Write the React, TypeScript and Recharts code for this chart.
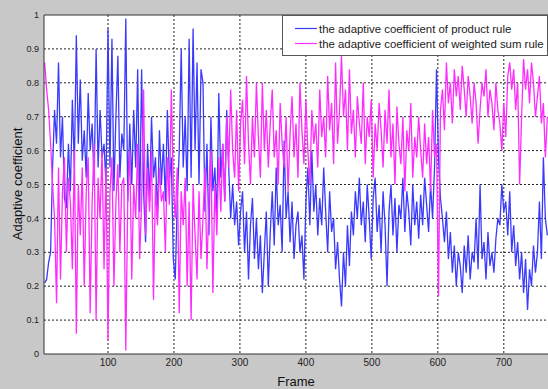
import React from 'react';
import { LineChart, Line, XAxis, YAxis, CartesianGrid, ReferenceLine, Legend } from 'recharts';

const frameStart = 4;
const frameStep = 3;

const productRule: number[] = [
  0.21,0.22,0.27,0.30,0.55,0.72,0.62,0.86,0.58,0.70,
  0.46,0.43,0.62,0.48,0.75,0.55,0.94,0.62,0.81,0.57,
  0.66,0.52,0.77,0.60,0.68,0.50,0.90,0.55,0.72,0.58,
  0.62,0.50,0.96,0.55,0.93,0.48,0.70,0.88,0.52,0.65,
  0.60,0.99,0.45,0.68,0.50,0.72,0.55,0.84,0.42,0.84,
  0.48,0.33,0.62,0.45,0.70,0.52,0.58,0.40,0.66,0.50,
  0.62,0.45,0.72,0.52,0.58,0.28,0.22,0.45,0.60,0.90,
  0.55,0.70,0.48,0.93,0.52,0.96,0.60,0.86,0.50,0.84,
  0.80,0.42,0.62,0.35,0.70,0.48,0.55,0.40,0.77,0.52,
  0.62,0.45,0.72,0.55,0.40,0.50,0.38,0.45,0.32,0.42,
  0.48,0.30,0.42,0.22,0.38,0.46,0.28,0.40,0.25,0.35,
  0.18,0.30,0.42,0.20,0.36,0.48,0.32,0.55,0.38,0.44,
  0.30,0.63,0.40,0.48,0.33,0.45,0.28,0.38,0.42,0.30,
  0.35,0.22,0.45,0.55,0.38,0.60,0.42,0.50,0.35,0.46,
  0.38,0.55,0.42,0.30,0.48,0.36,0.40,0.25,0.33,0.22,
  0.14,0.30,0.20,0.38,0.26,0.42,0.35,0.48,0.40,0.52,
  0.38,0.45,0.33,0.50,0.40,0.28,0.46,0.52,0.36,0.44,
  0.30,0.48,0.38,0.20,0.42,0.50,0.35,0.46,0.30,0.44,
  0.40,0.52,0.36,0.48,0.42,0.32,0.50,0.38,0.45,0.34,
  0.47,0.38,0.52,0.44,0.36,0.50,0.40,0.55,0.84,0.58,
  0.46,0.40,0.33,0.42,0.28,0.36,0.24,0.32,0.20,0.30,
  0.26,0.18,0.32,0.24,0.35,0.22,0.30,0.27,0.40,0.25,
  0.50,0.28,0.33,0.22,0.36,0.26,0.30,0.24,0.34,0.40,
  0.38,0.50,0.42,0.45,0.35,0.48,0.30,0.38,0.26,0.33,
  0.22,0.30,0.18,0.28,0.13,0.25,0.20,0.32,0.24,0.30,
  0.45,0.28,0.58,0.40,0.35,
];

const weightedSumRule: number[] = [
  0.86,0.78,0.72,0.62,0.50,0.40,0.15,0.55,0.22,0.48,
  0.58,0.30,0.52,0.45,0.25,0.60,0.06,0.50,0.35,0.55,
  0.20,0.48,0.58,0.12,0.45,0.62,0.10,0.52,0.40,0.60,
  0.25,0.55,0.04,0.48,0.58,0.20,0.45,0.56,0.30,0.50,
  0.52,0.01,0.46,0.60,0.22,0.50,0.40,0.62,0.28,0.45,
  0.78,0.35,0.55,0.42,0.60,0.16,0.50,0.38,0.55,0.45,
  0.48,0.30,0.58,0.44,0.78,0.50,0.40,0.55,0.12,0.48,
  0.38,0.52,0.20,0.45,0.10,0.50,0.35,0.22,0.48,0.28,
  0.40,0.55,0.25,0.45,0.60,0.18,0.50,0.35,0.58,0.42,
  0.62,0.45,0.70,0.55,0.78,0.60,0.52,0.72,0.48,0.68,
  0.75,0.56,0.82,0.62,0.50,0.70,0.58,0.80,0.64,0.52,
  0.80,0.60,0.72,0.55,0.68,0.78,0.58,0.66,0.50,0.74,
  0.62,0.55,0.70,0.48,0.65,0.76,0.58,0.68,0.52,0.80,
  0.66,0.56,0.75,0.60,0.50,0.72,0.62,0.68,0.55,0.78,
  0.64,0.70,0.58,0.82,0.66,0.74,0.56,0.86,0.62,0.72,
  0.88,0.70,0.78,0.60,0.84,0.65,0.72,0.58,0.76,0.68,
  0.62,0.80,0.56,0.70,0.64,0.75,0.52,0.68,0.60,0.74,
  0.66,0.55,0.72,0.62,0.78,0.58,0.68,0.50,0.73,0.62,
  0.56,0.70,0.48,0.66,0.60,0.74,0.52,0.64,0.58,0.70,
  0.60,0.52,0.68,0.56,0.64,0.48,0.72,0.58,0.62,0.17,
  0.72,0.78,0.66,0.86,0.74,0.80,0.68,0.84,0.76,0.82,
  0.72,0.85,0.78,0.70,0.82,0.76,0.68,0.80,0.74,0.62,
  0.72,0.80,0.76,0.84,0.70,0.78,0.74,0.66,0.80,0.72,
  0.68,0.60,0.74,0.64,0.82,0.86,0.78,0.84,0.72,0.80,
  0.50,0.70,0.87,0.78,0.84,0.74,0.86,0.80,0.70,0.76,
  0.82,0.68,0.74,0.58,0.70,
];

const xTicks = [100, 200, 300, 400, 500, 600, 700];
const yTicks = [0, 0.1, 0.2, 0.3, 0.4, 0.5, 0.6, 0.7, 0.8, 0.9, 1];
const seriesNames = [
  'the adaptive coefficient of product rule',
  'the adaptive coefficient of weighted sum rule',
];
const seriesColors = ['#3a3aff', '#ff2cff'];

const data = productRule.map((p, i) => ({
  frame: frameStart + i * frameStep,
  product: p,
  weighted: weightedSumRule[i],
}));

const FONT = '"Liberation Sans", Arial, sans-serif';

const LegendBox = () => (
  <div
    style={{
      position: 'relative',
      width: 264,
      height: 39,
      border: '1px solid #555',
      background: '#fff',
      fontFamily: FONT,
      fontSize: 11.4,
      color: '#222',
    }}
  >
    {seriesNames.map((name, i) => (
      <div key={name} style={{ position: 'absolute', left: 12, top: 5 + i * 15, height: 15, display: 'flex', alignItems: 'center', whiteSpace: 'nowrap' }}>
        <svg width={24} height={15} style={{ display: 'block' }}>
          <line x1={0} x2={22} y1={7.5} y2={7.5} stroke={seriesColors[i]} strokeWidth={1.2} />
        </svg>
        <span>{name}</span>
      </div>
    ))}
  </div>
);

export default function App() {
  return (
    <div style={{ position: 'absolute', left: 0, top: 0, width: 548, height: 389, background: '#c8c8c8', overflow: 'hidden' }}>
      <LineChart width={548} height={389} data={data} margin={{ top: 15, right: 0, left: 0, bottom: 0 }}>
        <CartesianGrid fill="#ffffff" stroke="#222" strokeDasharray="2 2" horizontalValues={yTicks.slice(1, 10)} verticalValues={xTicks} />
        <XAxis
          dataKey="frame"
          type="number"
          domain={[3, 767]}
          allowDataOverflow
          ticks={xTicks}
          tickLine={false}
          tickSize={3}
          height={35}
          axisLine={{ stroke: '#333' }}
          tick={{ fontSize: 10, fill: '#222', fontFamily: FONT }}
          label={{ value: 'Frame', position: 'insideBottom', offset: 3, style: { fontSize: 13, fill: '#111', fontFamily: FONT } }}
        />
        <YAxis
          type="number"
          domain={[0, 1]}
          ticks={yTicks}
          tickLine={false}
          tickSize={3}
          width={44}
          axisLine={{ stroke: '#333' }}
          tick={{ fontSize: 9, fill: '#222', fontFamily: FONT }}
          label={{
            content: () => (
              <text x={17} y={184} transform="rotate(-90 17 184)" textAnchor="middle" dominantBaseline="central" style={{ fontSize: 13, fill: '#111', fontFamily: FONT }}>
                Adaptive coefficient
              </text>
            ),
          }}
        />
        <ReferenceLine y={1} stroke="#333" strokeWidth={1} />
        <Line type="linear" dataKey="product" stroke={seriesColors[0]} strokeWidth={1.3} dot={false} isAnimationActive={false} />
        <Line type="linear" dataKey="weighted" stroke={seriesColors[1]} strokeWidth={1.3} dot={false} isAnimationActive={false} />
        <Legend
          layout="horizontal"
          verticalAlign="middle"
          align="center"
          content={() => <LegendBox />}
          wrapperStyle={{ left: 282, top: 15, width: 266, height: 41, right: 'auto', bottom: 'auto' }}
        />
      </LineChart>
    </div>
  );
}
